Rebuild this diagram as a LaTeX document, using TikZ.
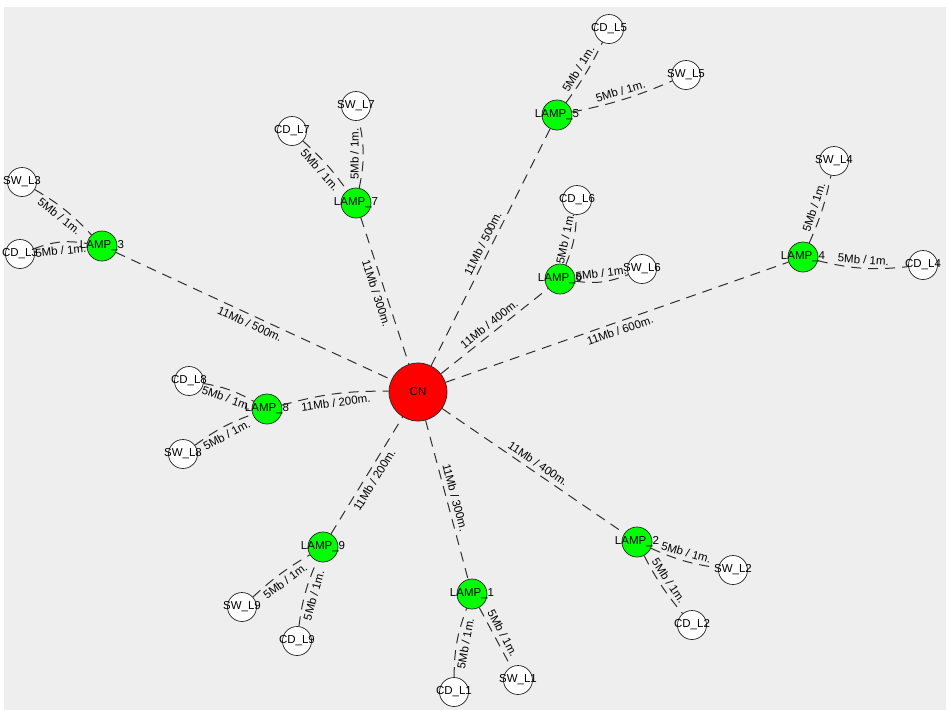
\documentclass[tikz,border=0pt]{standalone}
\usepackage{fontspec}
\setmainfont{Liberation Sans}
\definecolor{bg}{HTML}{EEEEEE}
\definecolor{edge}{HTML}{2E2E2E}
\begin{document}
\begin{tikzpicture}[x=1pt,y=1pt,
  every node/.style={font=\fontsize{11.5}{13}\selectfont},
  hub/.style={circle,draw=black!85,fill=red,minimum size=58pt,inner sep=0pt,line width=0.7pt},
  lamp/.style={circle,draw=black!85,fill=green,minimum size=30pt,inner sep=0pt,line width=0.7pt},
  leaf/.style={circle,draw=black!85,fill=white,minimum size=29pt,inner sep=0pt,line width=0.7pt},
  link/.style={draw=edge,line width=1pt,dash pattern=on 10pt off 7pt},
  lbl/.style={sloped,midway,inner sep=4pt,text=black}
]
\useasboundingbox (0,0) rectangle (946,-710);
\fill[bg] (4,-7) rectangle (946,-710);

% hub
\node[hub] (CN) at (418,-392) {CN};
% lamps
\node[lamp] (L1) at (472,-594) {\makebox[0pt]{LAMP\_1}};
\node[lamp] (L2) at (637,-542) {\makebox[0pt]{LAMP\_2}};
\node[lamp] (L3) at (102,-246) {\makebox[0pt]{LAMP\_3}};
\node[lamp] (L4) at (803,-257) {\makebox[0pt]{LAMP\_4}};
\node[lamp] (L5) at (557,-115) {\makebox[0pt]{LAMP\_5}};
\node[lamp] (L6) at (560,-279) {\makebox[0pt]{LAMP\_6}};
\node[lamp] (L7) at (356,-203) {\makebox[0pt]{LAMP\_7}};
\node[lamp] (L8) at (267,-409) {\makebox[0pt]{LAMP\_8}};
\node[lamp] (L9) at (323,-547) {\makebox[0pt]{LAMP\_9}};
% leaves
\node[leaf] (SW1) at (518,-680) {\makebox[0pt]{SW\_L1}};
\node[leaf] (CD1) at (454,-692) {\makebox[0pt]{CD\_L1}};
\node[leaf] (SW2) at (733,-570) {\makebox[0pt]{SW\_L2}};
\node[leaf] (CD2) at (692,-625) {\makebox[0pt]{CD\_L2}};
\node[leaf] (SW3) at (22,-182) {\makebox[0pt]{SW\_L3}};
\node[leaf] (CD3) at (20,-254) {\makebox[0pt]{CD\_L3}};
\node[leaf] (SW4) at (834,-161) {\makebox[0pt]{SW\_L4}};
\node[leaf] (CD4) at (923,-265) {\makebox[0pt]{CD\_L4}};
\node[leaf] (CD5) at (609,-29) {\makebox[0pt]{CD\_L5}};
\node[leaf] (SW5) at (686,-75) {\makebox[0pt]{SW\_L5}};
\node[leaf] (CD6) at (577,-200) {\makebox[0pt]{CD\_L6}};
\node[leaf] (SW6) at (642,-269) {\makebox[0pt]{SW\_L6}};
\node[leaf] (SW7) at (356,-106) {\makebox[0pt]{SW\_L7}};
\node[leaf] (CD7) at (292,-131) {\makebox[0pt]{CD\_L7}};
\node[leaf] (CD8) at (189,-381) {\makebox[0pt]{CD\_L8}};
\node[leaf] (SW8) at (183,-454) {\makebox[0pt]{SW\_L8}};
\node[leaf] (SW9) at (242,-607) {\makebox[0pt]{SW\_L9}};
\node[leaf] (CD9) at (297,-641) {\makebox[0pt]{CD\_L9}};

% backbone links
\path[link] (L3) to node[lbl,below]{11Mb / 500m.} (CN);
\path[link] (L7) to node[lbl,below]{11Mb / 300m.} (CN);
\path[link] (CN) to node[lbl,above]{11Mb / 500m.} (L5);
\path[link] (CN) to node[lbl,above]{11Mb / 400m.} (L6);
\path[link] (CN) to node[lbl,below]{11Mb / 600m.} (L4);
\path[link] (L8) to[bend left=8] node[lbl,below]{11Mb / 200m.} (CN);
\path[link] (L9) to node[lbl,below]{11Mb / 200m.} (CN);
\path[link] (CN) to node[lbl,above]{11Mb / 300m.} (L1);
\path[link] (CN) to node[lbl,above]{11Mb / 400m.} (L2);

% local links
\path[link] (SW3) to[bend left=8] node[lbl,below]{5Mb / 1m.} (L3);
\path[link] (CD3) to[bend left=15] node[lbl,below]{5Mb / 1m.} (L3);
\path[link] (CD7) to[bend left=6] node[lbl,below]{5Mb / 1m.} (L7);
\path[link] (L7) to[bend right=12] node[lbl,above,allow upside down]{5Mb / 1m.} (SW7);
\path[link] (L5) to[bend right=5] node[lbl,above]{5Mb / 1m.} (CD5);
\path[link] (L5) to[bend right=6] node[lbl,above]{5Mb / 1m.} (SW5);
\path[link] (L6) to[bend right=10] node[lbl,above]{5Mb / 1m.} (CD6);
\path[link] (L6) to[bend right=15] node[lbl,above]{5Mb / 1m.} (SW6);
\path[link] (L4) to[bend right=6] node[lbl,above]{5Mb / 1m.} (SW4);
\path[link] (L4) to[bend right=10] node[lbl,above]{5Mb / 1m.} (CD4);
\path[link] (CD8) to[bend left=10] node[lbl,below]{5Mb / 1m.} (L8);
\path[link] (SW8) to[bend left=8] node[lbl,below]{5Mb / 1m.} (L8);
\path[link] (SW9) to[bend left=6] node[lbl,below]{5Mb / 1m.} (L9);
\path[link] (CD9) to[bend left=8] node[lbl,below]{5Mb / 1m.} (L9);
\path[link] (CD1) to[bend left=10] node[lbl,below]{5Mb / 1m.} (L1);
\path[link] (L1) to node[lbl,above]{5Mb / 1m.} (SW1);
\path[link] (L2) to[bend right=8] node[lbl,above]{5Mb / 1m.} (SW2);
\path[link] (L2) to[bend right=6] node[lbl,above]{5Mb / 1m.} (CD2);
\end{tikzpicture}
\end{document}
